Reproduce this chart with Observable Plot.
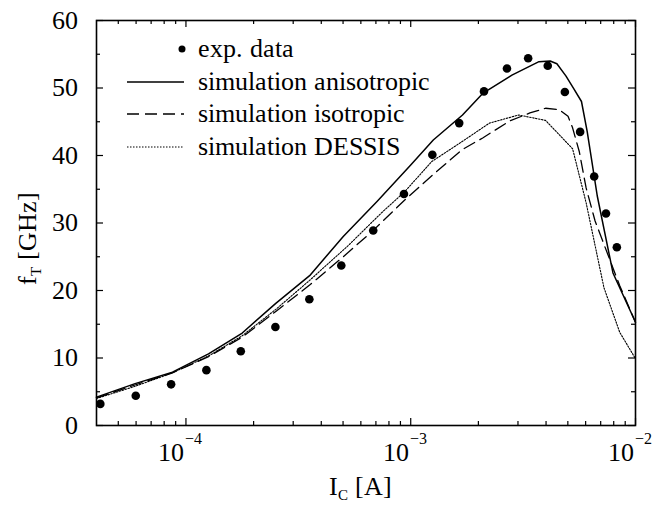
<!DOCTYPE html>
<html><head><meta charset="utf-8">
<script src="https://cdn.jsdelivr.net/npm/d3@7"></script>
<script src="https://cdn.jsdelivr.net/npm/@observablehq/plot@0.6"></script>
<style>
@font-face { font-family: "RefSerif"; src: local("Liberation Serif"), local("LiberationSerif"), local("LiberationSerif-Regular"); }
html,body{margin:0;padding:0;background:#fff;}
#chart svg{display:block;}
</style></head><body><div id="chart"></div>
<script>
// Experimental data: collector current I_C [A] and transit frequency f_T [GHz]
const expIc = [4.16e-5, 5.98e-5, 8.59e-5, 1.233e-4, 1.754e-4, 2.50e-4, 3.54e-4, 4.91e-4, 6.81e-4, 9.33e-4, 1.248e-3, 1.643e-3, 2.118e-3, 2.68e-3, 3.33e-3, 4.07e-3, 4.85e-3, 5.67e-3, 6.55e-3, 7.39e-3, 8.26e-3];
const expFt = [3.2, 4.4, 6.1, 8.2, 11.0, 14.6, 18.7, 23.7, 28.9, 34.3, 40.1, 44.8, 49.5, 52.9, 54.4, 53.3, 49.4, 43.5, 36.9, 31.4, 26.4];

// simulation anisotropic (solid)
const anisoIc = [4.0e-5, 5.94e-5, 8.71e-5, 1.26e-4, 1.78e-4, 2.51e-4, 3.55e-4, 5.01e-4, 7.08e-4, 1.0e-3, 1.26e-3, 1.70e-3, 2.09e-3, 2.82e-3, 3.72e-3, 4.17e-3, 4.47e-3, 4.90e-3, 5.31e-3, 5.75e-3, 6.10e-3, 6.76e-3, 7.94e-3, 1.0e-2];
const anisoFt = [4.2, 6.2, 7.9, 10.6, 13.7, 18.1, 22.2, 28.0, 33.2, 38.6, 42.3, 46.0, 49.2, 51.9, 53.9, 54.0, 53.6, 51.8, 49.9, 48.0, 43.5, 34.0, 22.6, 15.3];

// simulation isotropic (dashed)
const isoIc = [4.0e-5, 5.94e-5, 8.71e-5, 1.26e-4, 1.78e-4, 2.51e-4, 3.55e-4, 5.01e-4, 6.76e-4, 9.33e-4, 1.26e-3, 1.70e-3, 2.09e-3, 2.75e-3, 3.39e-3, 3.98e-3, 4.57e-3, 5.01e-3, 5.25e-3, 5.62e-3, 6.03e-3, 6.61e-3, 8.51e-3, 1.0e-2];
const isoFt = [4.1, 6.0, 7.8, 10.2, 13.1, 16.9, 20.8, 25.0, 28.8, 33.3, 37.2, 40.9, 42.6, 45.1, 46.3, 47.0, 46.8, 45.8, 44.1, 40.6, 35.2, 30.3, 20.7, 15.3];

// simulation DESSIS (dotted)
const dessisIc = [4.0e-5, 5.94e-5, 8.71e-5, 1.26e-4, 1.78e-4, 2.51e-4, 3.55e-4, 5.25e-4, 7.41e-4, 9.44e-4, 1.24e-3, 1.70e-3, 2.24e-3, 3.02e-3, 3.98e-3, 5.25e-3, 6.03e-3, 7.24e-3, 8.51e-3, 1.0e-2];
const dessisFt = [4.0, 5.8, 7.8, 10.3, 13.3, 17.2, 21.5, 26.6, 31.5, 34.7, 39.1, 42.1, 44.8, 46.0, 45.2, 41.0, 33.0, 20.4, 13.8, 9.9];

// axes / ticks
const xDomain = [4e-5, 1e-2];
const yDomain = [0, 60];
const xLabelTicks = [1e-4, 1e-3, 1e-2];
const xLabelExps = ["\u22124", "\u22123", "\u22122"];
const xDecades = [1e-5, 1e-4, 1e-3];
const xMantissas = [2, 3, 4, 5, 6, 7, 8, 9];
const yMajorTicks = [0, 10, 20, 30, 40, 50, 60];
const yMinorTicks = [5, 15, 25, 35, 45, 55];
const yLabelText = ["f", "T", " [GHz]"];
const xLabelText = ["I", "C", " [A]"];
const legendLabels = ["exp. data", "simulation anisotropic", "simulation isotropic", "simulation DESSIS"];

const W = 662, H = 506;
const mL = 96, mR = 27, mT = 20, mB = 81;
const frameW = W - mL - mR, frameH = H - mT - mB;
const majorLen = 7, minorLen = 4;

const xMinorTicks = xDecades.flatMap(d => xMantissas.map(m => m * d)).filter(v => v > xDomain[0] && v < xDomain[1]);

const zip = (xs, ys) => xs.map((x, i) => ({x, y: ys[i]}));
const expData = zip(expIc, expFt);
const anisoData = zip(anisoIc, anisoFt);
const isoData = zip(isoIc, isoFt);
const dessisData = zip(dessisIc, dessisFt);

const font = "RefSerif, Liberation Serif, serif";

const svg = Plot.plot({
  width: W, height: H,
  marginLeft: mL, marginRight: mR, marginTop: mT, marginBottom: mB,
  style: {background: "white", color: "black", overflow: "visible", fontFamily: font},
  x: {type: "log", domain: xDomain, axis: null},
  y: {domain: yDomain, axis: null},
  marks: [
    // bottom & top ticks
    Plot.ruleX(xLabelTicks, {x: d => d, insetTop: frameH - majorLen, stroke: "black", strokeWidth: 1.2}),
    Plot.ruleX(xMinorTicks, {x: d => d, insetTop: frameH - minorLen, stroke: "black", strokeWidth: 1.2}),
    Plot.ruleX(xLabelTicks, {x: d => d, insetBottom: frameH - majorLen, stroke: "black", strokeWidth: 1.2}),
    Plot.ruleX(xMinorTicks, {x: d => d, insetBottom: frameH - minorLen, stroke: "black", strokeWidth: 1.2}),
    // left & right ticks
    Plot.ruleY(yMajorTicks, {y: d => d, insetRight: frameW - majorLen, stroke: "black", strokeWidth: 1.2}),
    Plot.ruleY(yMinorTicks, {y: d => d, insetRight: frameW - minorLen, stroke: "black", strokeWidth: 1.2}),
    Plot.ruleY(yMajorTicks, {y: d => d, insetLeft: frameW - majorLen, stroke: "black", strokeWidth: 1.2}),
    Plot.ruleY(yMinorTicks, {y: d => d, insetLeft: frameW - minorLen, stroke: "black", strokeWidth: 1.2}),
    // tick labels
    Plot.text(yMajorTicks, {y: d => d, text: d => String(d), frameAnchor: "left", dx: -19, textAnchor: "end", fontSize: 26, fill: "black", fontFamily: font}),
    Plot.text(xLabelTicks, {x: d => d, text: () => "10", frameAnchor: "bottom", dx: -2, dy: 35, textAnchor: "end", lineAnchor: "bottom", fontSize: 26, fill: "black", fontFamily: font}),
    Plot.text(xLabelTicks, {x: d => d, text: (d, i) => xLabelExps[i], frameAnchor: "bottom", dx: -1, dy: 18, textAnchor: "start", lineAnchor: "bottom", fontSize: 16, fill: "black", fontFamily: font}),
    // curves
    Plot.line(dessisData, {x: "x", y: "y", stroke: "black", strokeWidth: 1.1, strokeDasharray: "1.5,1.5"}),
    Plot.line(isoData, {x: "x", y: "y", stroke: "black", strokeWidth: 1.3, strokeDasharray: "12,6"}),
    Plot.line(anisoData, {x: "x", y: "y", stroke: "black", strokeWidth: 1.5}),
    Plot.dot(expData, {x: "x", y: "y", r: 4.3, fill: "black", stroke: "none"}),
    Plot.frame({stroke: "black", strokeWidth: 1.6})
  ]
});

const s = d3.select(svg);
// y axis label
const yl = s.append("text").attr("transform", "translate(36,238) rotate(-90)")
  .attr("text-anchor", "middle").attr("font-size", 26).attr("fill", "black");
yl.append("tspan").text(yLabelText[0]);
yl.append("tspan").attr("font-size", 15).attr("dy", 5).text(yLabelText[1]);
yl.append("tspan").attr("dy", -5).text(yLabelText[2]);
// x axis label
const xl = s.append("text").attr("x", 360).attr("y", 495)
  .attr("text-anchor", "middle").attr("font-size", 26).attr("fill", "black");
xl.append("tspan").text(xLabelText[0]);
xl.append("tspan").attr("font-size", 15).attr("dy", 5).text(xLabelText[1]);
xl.append("tspan").attr("dy", -5).text(xLabelText[2]);

// legend
const lg = s.append("g").attr("font-size", 26).attr("fill", "black").attr("text-anchor", "start");
const rowsBase = [57, 90, 122, 155];
const textX = 198, lineX1 = 127, lineX2 = 184;
legendLabels.forEach((lab, i) => {
  lg.append("text").attr("x", textX).attr("y", rowsBase[i]).attr("text-anchor", "start").text(lab);
});
lg.append("circle").attr("cx", 182).attr("cy", rowsBase[0] - 8).attr("r", 3.5).attr("fill", "black");
const styles = [{w: 1.5, dash: null}, {w: 1.3, dash: "12,6"}, {w: 1.1, dash: "1.5,1.5"}];
styles.forEach((st, j) => {
  const y = rowsBase[j + 1] - 8;
  const l = lg.append("line").attr("x1", lineX1).attr("x2", lineX2).attr("y1", y).attr("y2", y)
    .attr("stroke", "black").attr("stroke-width", st.w);
  if (st.dash) l.attr("stroke-dasharray", st.dash);
});

// serif face on every text node
svg.setAttribute("font-family", font);
s.selectAll("g, text, tspan").each(function() {
  this.setAttribute("font-family", font);
  this.style.setProperty("font-family", font, "important");
});

document.getElementById("chart").appendChild(svg);
</script></body></html>
